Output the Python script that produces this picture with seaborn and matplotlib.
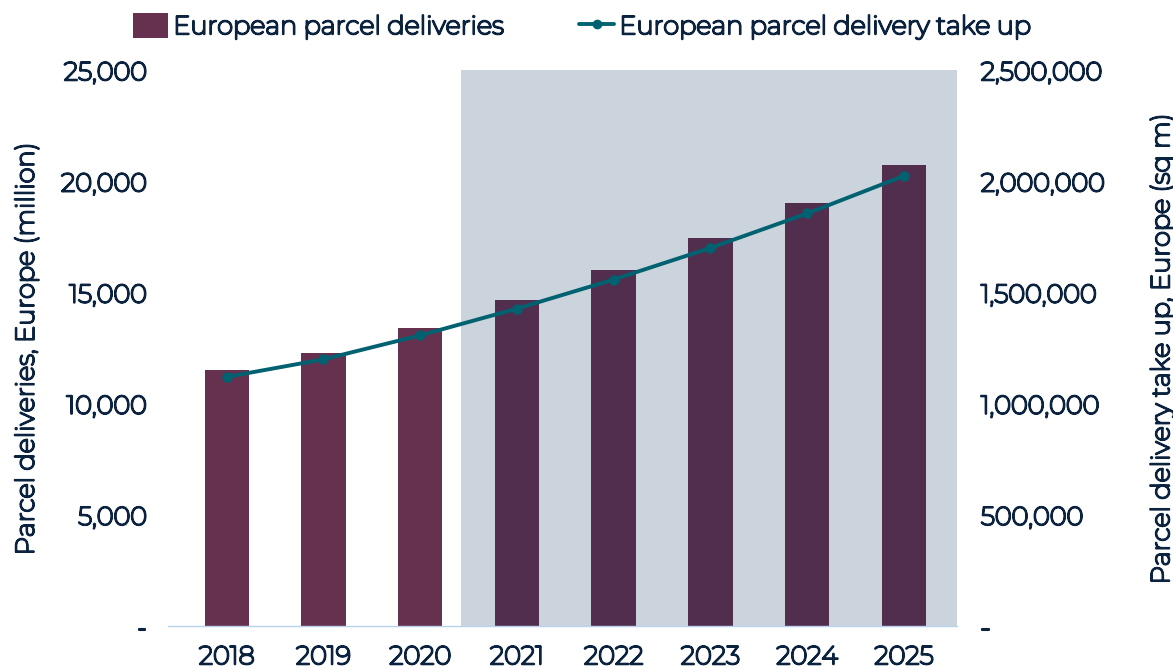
import matplotlib
matplotlib.use('Agg')
import matplotlib.pyplot as plt
import matplotlib.patheffects as pe
from matplotlib.ticker import FuncFormatter
from matplotlib.lines import Line2D
from matplotlib.patches import Patch
import seaborn as sns
import pandas as pd

# dados
years = ['2018', '2019', '2020', '2021', '2022', '2023', '2024', '2025']
parcel_deliveries = [11500, 12300, 13400, 14650, 16000, 17450, 19050, 20750]
take_up = [1121000, 1200000, 1308000, 1428000, 1559000, 1701000, 1856000, 2025000]
forecast_from = '2021'

df = pd.DataFrame({'year': years, 'deliveries': parcel_deliveries, 'take_up': take_up})

sns.set_theme(style='white')
plt.rcParams['font.family'] = ['Montserrat', 'Open Sans', 'DejaVu Sans']

text_color = '#0c2340'
bar_color = '#66304f'
bar_color_fc = '#512e4e'
line_color = '#006270'
shade_color = '#cbd3dc'
fs = 18.5
# engrossar a fonte (so existe a versao fina instalada)
bold = [pe.withStroke(linewidth=1.5, foreground=text_color)]

fig = plt.figure(figsize=(11.73, 6.69), dpi=100)
ax = fig.add_axes([0.143, 0.064, 0.673, 0.831])

start = years.index(forecast_from)
bar_colors = [bar_color if i < start else bar_color_fc for i in range(len(years))]

ax.axvspan(start - 0.58, len(years) - 0.45, color=shade_color, zorder=0, lw=0)
sns.barplot(data=df, x='year', y='deliveries', hue='year', palette=bar_colors,
            legend=False, width=0.46, saturation=1, linewidth=0, edgecolor='none',
            ax=ax, zorder=2)

ax.set_xlim(-0.61, len(years) - 0.45)
ax.set_ylim(0, 25000)
ax.set_yticks(range(0, 25001, 5000))
fmt = FuncFormatter(lambda v, p: '-' if v == 0 else '{:,.0f}'.format(v))
ax.yaxis.set_major_formatter(fmt)
ax.set_xlabel('')
ax.set_ylabel('Parcel deliveries, Europe (million)', fontsize=fs, color=text_color, labelpad=16)

ax2 = ax.twinx()
sns.lineplot(data=df, x='year', y='take_up', color=line_color, linewidth=2.8,
             marker='o', markersize=7.5, markeredgewidth=0, ax=ax2, zorder=3)
ax2.set_ylim(0, 2500000)
ax2.set_yticks(range(0, 2500001, 500000))
ax2.yaxis.set_major_formatter(fmt)
ax2.set_xlabel('')
ax2.set_ylabel('Parcel delivery take up, Europe (sq m)', fontsize=fs, color=text_color, labelpad=32)

for a in (ax, ax2):
    for s in a.spines.values():
        s.set_visible(False)
    a.tick_params(axis='both', length=0, labelsize=fs, labelcolor=text_color)
ax.tick_params(axis='y', pad=15)
ax.tick_params(axis='x', pad=13)
ax2.tick_params(axis='y', pad=17)
ax.spines['bottom'].set_visible(True)
ax.spines['bottom'].set_color('#b9d3ee')
ax.spines['bottom'].set_linewidth(1)

handles = [Patch(facecolor=bar_color, edgecolor='none', label='European parcel deliveries'),
           Line2D([0], [0], color=line_color, lw=2.8, marker='o', markersize=6,
                  label='European parcel delivery take up')]
leg = fig.legend(handles=handles, loc='upper left', bbox_to_anchor=(0.094, 1.015), ncol=2,
                 frameon=False, fontsize=fs, labelcolor=text_color, handlelength=1.35,
                 handletextpad=0.2, columnspacing=2.9, handleheight=1.1)

texts = ax.get_xticklabels() + ax.get_yticklabels() + ax2.get_yticklabels()
texts += [ax.yaxis.label, ax2.yaxis.label] + leg.get_texts()
for t in texts:
    t.set_path_effects(bold)

fig.savefig('out.png', dpi=100)
plt.close()
